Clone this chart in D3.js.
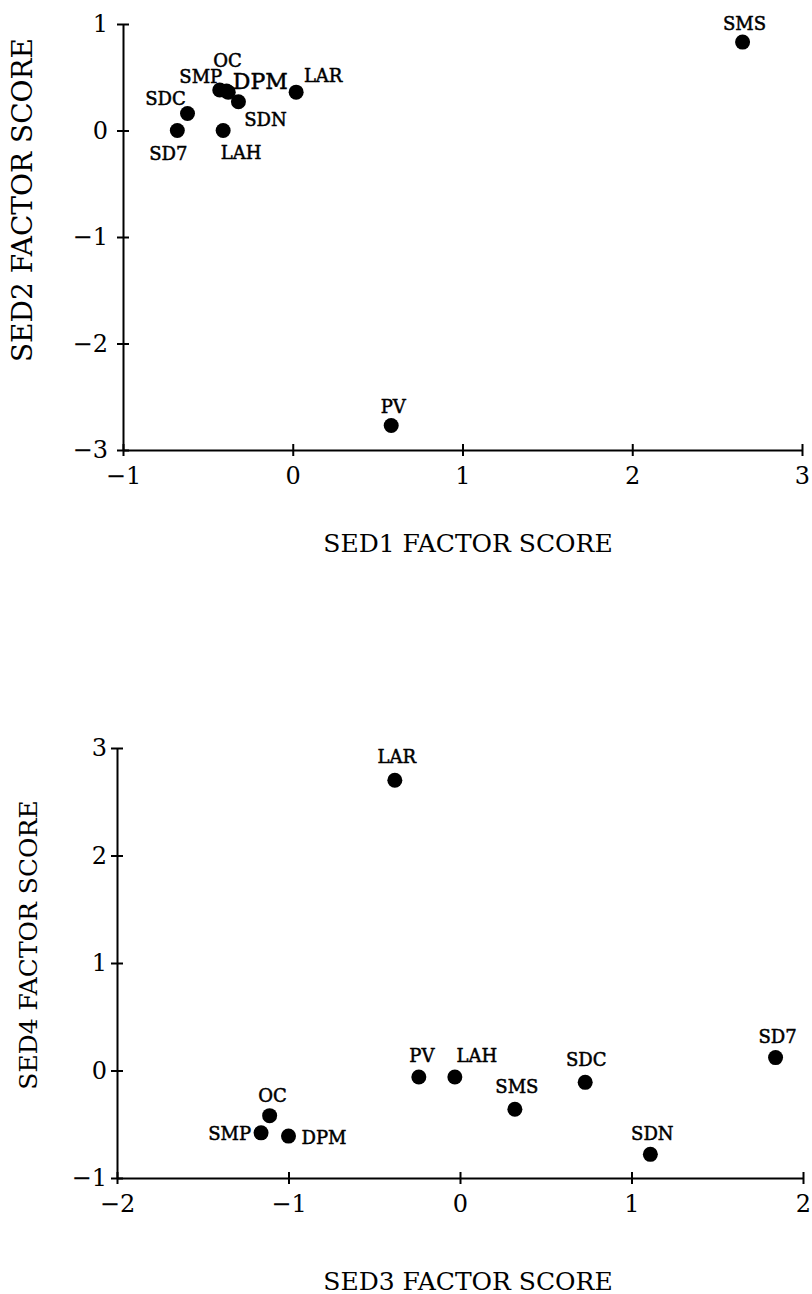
<!DOCTYPE html>
<html>
<head>
<meta charset="utf-8">
<script src="https://cdn.jsdelivr.net/npm/d3@7"></script>
<style>
  body { margin: 0; background: #fff; }
  svg { display: block; font-family: 'DejaVu Serif', serif; }
  .axis path, .axis line { stroke: #000; stroke-width: 2; }
  .axis text { font-family: 'DejaVu Serif', serif; font-size: 24px; fill: #000; }
  .site { stroke: #000; stroke-width: 0.5; }
</style>
</head>
<body>
<svg width="812" height="1294"></svg>
<script>
'use strict'

// upper panel: SED1 vs SED2 factor scores
const sites1 = ['SD7', 'SDC', 'LAH', 'SMP', 'OC', 'DPM', 'SDN', 'LAR', 'SMS', 'PV']
const sed1 = [-0.68, -0.62, -0.41, -0.43, -0.39, -0.38, -0.32, 0.02, 2.65, 0.58]
const sed2 = [0.0, 0.16, 0.0, 0.38, 0.37, 0.36, 0.27, 0.36, 0.83, -2.77]
const ticks1x = [-1, 0, 1, 2, 3]
const ticks1y = [-3, -2, -1, 0, 1]

// lower panel: SED3 vs SED4 factor scores
const sites2 = ['LAR', 'PV', 'LAH', 'SMS', 'SDC', 'SD7', 'SDN', 'OC', 'SMP', 'DPM']
const sed3 = [-0.38, -0.24, -0.03, 0.32, 0.73, 1.84, 1.11, -1.11, -1.16, -1.0]
const sed4 = [2.7, -0.06, -0.06, -0.36, -0.11, 0.12, -0.78, -0.42, -0.58, -0.61]
const ticks2x = [-2, -1, 0, 1, 2]
const ticks2y = [-1, 0, 1, 2, 3]

// label placement relative to each dot: [dx, dy, anchor, size]
const place1 = {
    SD7: [-9, 29, 'middle'], SDC: [-22, -8, 'middle'], LAH: [18, 28, 'middle'],
    SMP: [-19, -7, 'middle'], OC: [1, -24, 'middle'], DPM: [32, -3, 'middle', 22],
    SDN: [27, 24, 'middle'], LAR: [27, -10, 'middle'], SMS: [2, -12, 'middle'],
    PV: [2, -13, 'middle']
}
const place2 = {
    LAR: [2, -17, 'middle'], PV: [3, -15, 'middle'], LAH: [22, -15, 'middle'],
    SMS: [2, -16, 'middle'], SDC: [1, -16, 'middle'], SD7: [2, -15, 'middle'],
    SDN: [2, -14, 'middle'], OC: [3, -14, 'middle'], SMP: [-10, 7, 'end'],
    DPM: [13, 8, 'start']
}

const svg = d3.select('svg')
const fmt = d3.format('d')

function panel(cfg) {
    const x = d3.scaleLinear().domain(d3.extent(cfg.xt)).range(cfg.xr)
    const y = d3.scaleLinear().domain(d3.extent(cfg.yt)).range(cfg.yr)

    const gx = svg.append('g')
        .attr('class', 'axis')
        .attr('transform', `translate(0,${cfg.yr[0]})`)
        .call(d3.axisBottom(x).tickValues(cfg.xt).tickFormat(fmt)
            .tickSize(6).tickSizeOuter(0).tickPadding(11))
    gx.selectAll('.tick line').attr('y1', -6).attr('y2', 6)

    const gy = svg.append('g')
        .attr('class', 'axis')
        .attr('transform', `translate(${cfg.xr[0]},0)`)
        .call(d3.axisLeft(y).tickValues(cfg.yt).tickFormat(fmt)
            .tickSize(6).tickSizeOuter(0).tickPadding(cfg.ypad))
    gy.selectAll('.tick line').attr('x1', 6).attr('x2', -6)

    const pts = cfg.names.map((n, i) => ({ name: n, x: cfg.xs[i], y: cfg.ys[i] }))

    svg.append('g')
        .selectAll('circle')
        .data(pts)
        .enter()
        .append('circle')
        .attr('cx', d => x(d.x))
        .attr('cy', d => y(d.y))
        .attr('r', 7.5)
        .attr('fill', '#000')

    svg.append('g')
        .selectAll('text')
        .data(pts)
        .enter()
        .append('text')
        .attr('class', 'site')
        .attr('x', d => x(d.x) + cfg.place[d.name][0])
        .attr('y', d => y(d.y) + cfg.place[d.name][1])
        .attr('text-anchor', d => cfg.place[d.name][2])
        .attr('font-size', d => cfg.place[d.name][3] || 18)
        .text(d => d.name)

    svg.append('text')
        .attr('x', 468)
        .attr('y', cfg.xlabelY)
        .attr('text-anchor', 'middle')
        .attr('font-size', 25)
        .text(cfg.xlabel)

    svg.append('text')
        .attr('transform', `translate(${cfg.ylabelX},${cfg.ylabelMid}) rotate(-90)`)
        .attr('text-anchor', 'middle')
        .attr('font-size', cfg.ylabelSize)
        .text(cfg.ylabel)
}

panel({
    names: sites1, xs: sed1, ys: sed2, xt: ticks1x, yt: ticks1y,
    xr: [123, 802], yr: [450, 24], ypad: 9, place: place1,
    xlabel: 'SED1 FACTOR SCORE', xlabelY: 552,
    ylabel: 'SED2 FACTOR SCORE', ylabelX: 32, ylabelMid: 200, ylabelSize: 28
})

panel({
    names: sites2, xs: sed3, ys: sed4, xt: ticks2x, yt: ticks2y,
    xr: [117, 803], yr: [1178, 748], ypad: 4, place: place2,
    xlabel: 'SED3 FACTOR SCORE', xlabelY: 1290,
    ylabel: 'SED4 FACTOR SCORE', ylabelX: 37, ylabelMid: 945, ylabelSize: 25
})
</script>
</body>
</html>
